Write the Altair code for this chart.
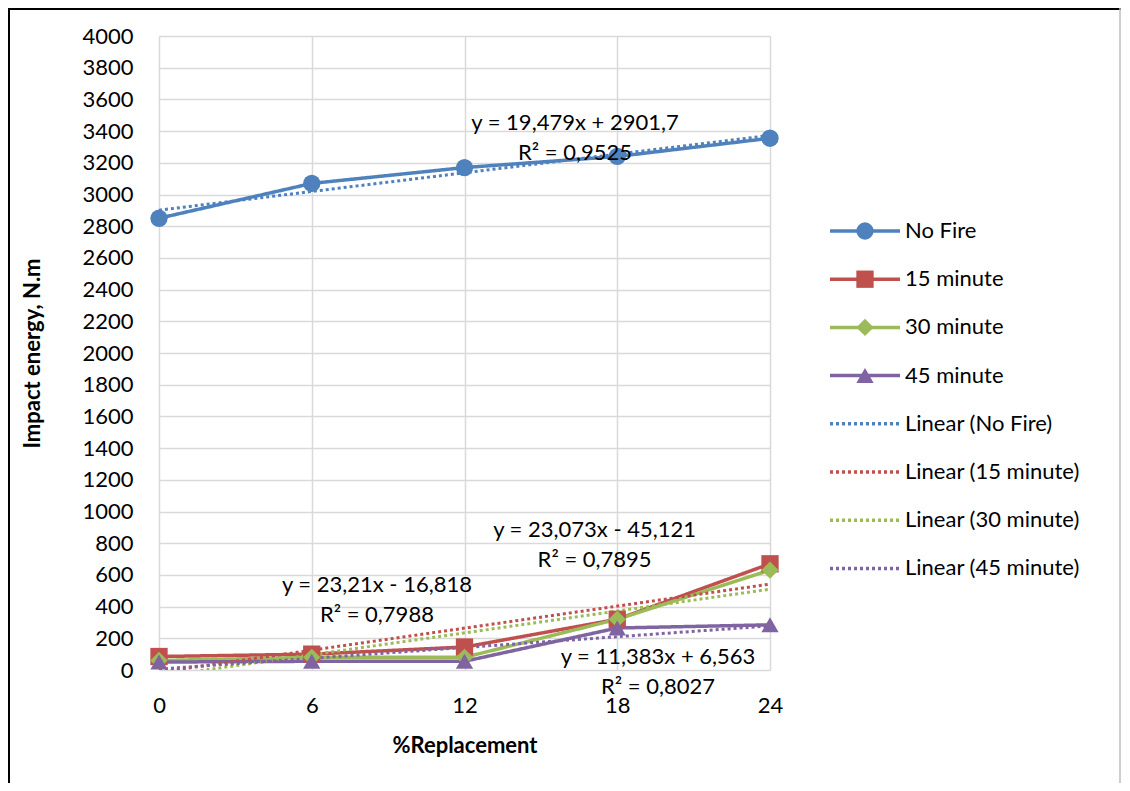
import altair as alt
import pandas as pd

# ---- data ----
replacement = [0, 6, 12, 18, 24]
series_names = ["No Fire", "15 minute", "30 minute", "45 minute"]
no_fire = [2850, 3070, 3170, 3240, 3355]
min15 = [85, 100, 145, 320, 670]
min30 = [60, 80, 80, 320, 630]
min45 = [50, 55, 55, 265, 285]
trend_names = ["Linear (No Fire)", "Linear (15 minute)", "Linear (30 minute)", "Linear (45 minute)"]
colors = ["#4F81BD", "#C0504D", "#9BBB59", "#8064A2"]
shapes = ["circle", "square", "diamond", "triangle-up"]
y_ticks = list(range(0, 4001, 200))
x_ticks = [0, 6, 12, 18, 24]

eq_text = [
    "y = 19,479x + 2901,7\nR² = 0,9525",
    "y = 23,073x - 45,121\nR² = 0,7895",
    "y = 23,21x - 16,818\nR² = 0,7988",
    "y = 11,383x + 6,563\nR² = 0,8027",
]
eq_x = [16.34, 17.11, 8.56, 19.6]
eq_y = [3451, 883, 536, 82]

FONT = "Lato"

rows = []
for name, vals in zip(series_names, [no_fire, min15, min30, min45]):
    for xv, yv in zip(replacement, vals):
        rows.append({"series": name, "x": xv, "value": yv})
df = pd.DataFrame(rows)
ann = pd.DataFrame({"text": eq_text, "x": eq_x, "y": eq_y})

all_names = series_names + trend_names
all_colors = colors + colors
all_dash = [[1, 0]] * 4 + [[3, 3]] * 4

xscale = alt.Scale(domain=[0, 24], nice=False, zero=False)
yscale = alt.Scale(domain=[0, 4000], nice=False)

xaxis = alt.Axis(values=x_ticks, tickCount=10, title="%Replacement", labelPadding=25,
                 titleY=75, titleBaseline="middle", format="d", labelOverlap=False,
                 labelFlush=False)
yaxis = alt.Axis(values=y_ticks, tickCount=40, title="Impact energy, N.m", labelPadding=26,
                 titleX=-127, titleBaseline="middle", format="d", labelOverlap=False,
                 labelFlush=False)

xenc = alt.X("x:Q", scale=xscale, axis=xaxis)
yenc = alt.Y("value:Q", scale=yscale, axis=yaxis)

line_legend = alt.Legend(title=None, orient="none", legendX=695, legendY=184,
                         symbolType="M-5,0H5", symbolSize=196, symbolStrokeWidth=3.5,
                         labelFont=FONT, labelFontSize=22, labelColor="black",
                         labelOffset=29, rowPadding=26.2, padding=0, labelLimit=400)
marker_legend = alt.Legend(title=None, orient="none", legendX=695, legendY=184,
                           symbolSize=300, symbolStrokeWidth=0, symbolOpacity=1,
                           labelFont=FONT, labelFontSize=22, labelOpacity=0,
                           labelOffset=29, rowPadding=26.2, padding=0, zindex=1, labelLimit=400)

base = alt.Chart(df)

lines = base.mark_line(strokeWidth=3.5).encode(
    x=xenc, y=yenc,
    color=alt.Color("series:N", scale=alt.Scale(domain=all_names, range=all_colors), legend=line_legend),
    strokeDash=alt.StrokeDash("series:N", scale=alt.Scale(domain=all_names, range=all_dash), legend=line_legend),
)

trends = base.transform_regression(
    "x", "value", groupby=["series"], extent=[0, 24]
).mark_line(strokeWidth=3, strokeDash=[3, 3], clip=True).encode(
    x=xenc, y=yenc,
    color=alt.Color("series:N", scale=alt.Scale(domain=series_names, range=colors), legend=None),
)

points = base.mark_point(filled=True, size=300, opacity=1).encode(
    x=xenc, y=yenc,
    color=alt.Color("series:N", scale=alt.Scale(domain=series_names, range=colors), legend=marker_legend),
    shape=alt.Shape("series:N", scale=alt.Scale(domain=series_names, range=shapes), legend=marker_legend),
)

labels = alt.Chart(ann).transform_calculate(value="datum.y").mark_text(
    font=FONT, fontSize=22, lineBreak="\n", lineHeight=30,
    align="center", baseline="middle", color="black").encode(
    x=xenc, y=yenc,
    text="text:N",
)

frame_src = alt.Chart(pd.DataFrame({"k": [0]}))
frame_left = frame_src.mark_rule(color="black", strokeWidth=2).encode(
    x=alt.value(-150), y=alt.value(-28), y2=alt.value(800))
frame_top = frame_src.mark_rule(color="black", strokeWidth=2).encode(
    x=alt.value(-151), x2=alt.value(962), y=alt.value(-27))
frame_right = frame_src.mark_rule(color="#BFBFBF", strokeWidth=1.5).encode(
    x=alt.value(961), y=alt.value(-28), y2=alt.value(800))

chart = alt.layer(lines, trends, points, labels, frame_left, frame_top, frame_right).resolve_scale(
    color="independent", shape="independent", strokeDash="independent"
).resolve_legend(
    color="independent", shape="independent", strokeDash="independent"
).properties(
    width=611, height=634,
    autosize=alt.AutoSizeParams(type="none"),
    padding={"left": 151, "top": 28, "right": 352, "bottom": 113},
).configure_view(stroke=None).configure_axis(
    grid=True, gridColor="#D9D9D9", gridWidth=1.5, domain=False, ticks=False,
    labelFont=FONT, labelFontSize=22, labelColor="black",
    titleFont=FONT, titleFontSize=22, titleFontWeight="bold", titleColor="black",
)

chart.save("out.html", embed_options={"renderer": "svg", "actions": False})
